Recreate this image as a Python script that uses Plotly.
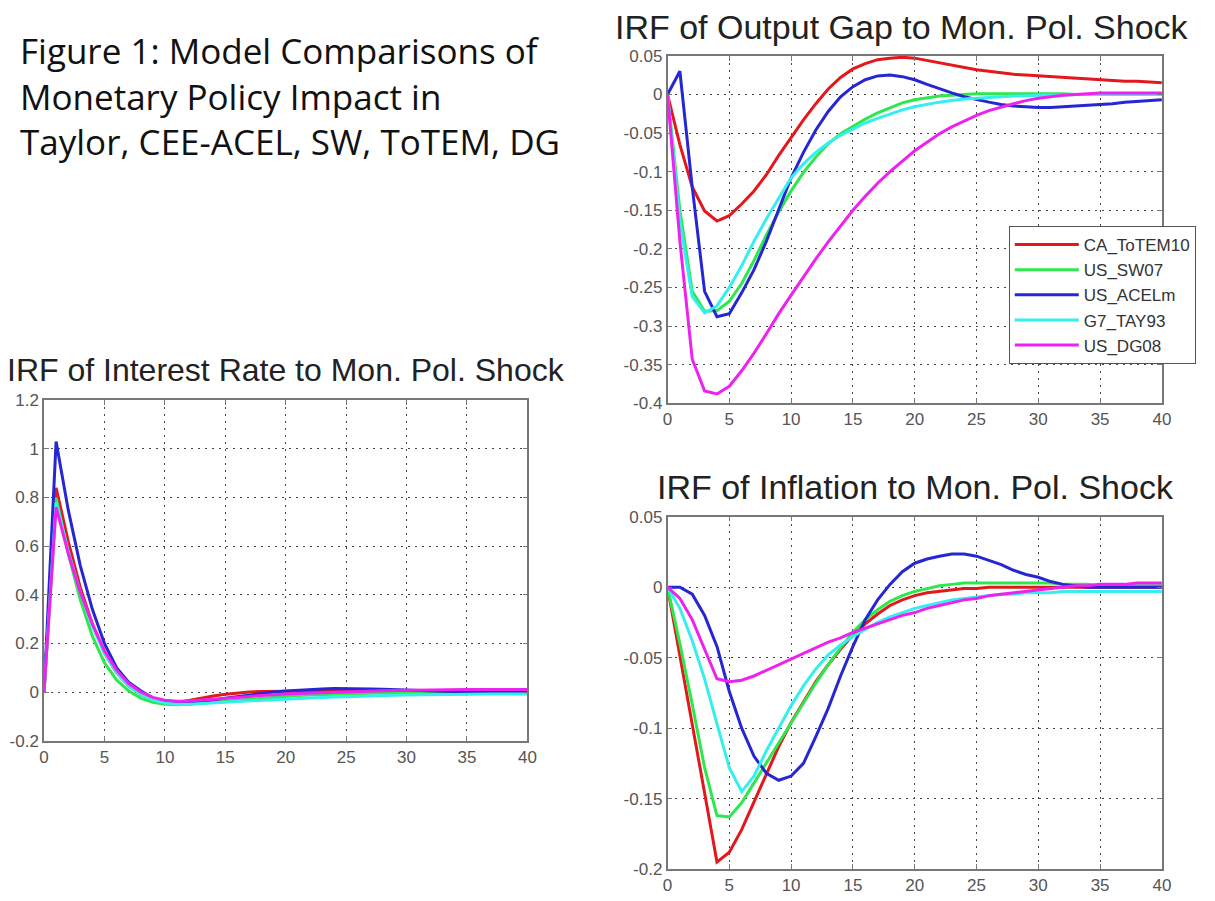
import plotly.graph_objects as go

# ---------------- data ----------------
periods = list(range(0, 41))
series_names = ["CA_ToTEM10", "US_SW07", "US_ACELm", "G7_TAY93", "US_DG08"]
series_colors = ["#e3171c", "#2de84c", "#2626d2", "#35eeee", "#ee22ee"]

# Output gap
og_CA_ToTEM10 = [0, -0.065, -0.12, -0.151, -0.164, -0.157, -0.142, -0.125, -0.104, -0.079,
                 -0.056, -0.033, -0.012, 0.007, 0.022, 0.033, 0.04, 0.045, 0.047, 0.048,
                 0.047, 0.044, 0.041, 0.038, 0.035, 0.032, 0.03, 0.028, 0.026, 0.025,
                 0.024, 0.023, 0.022, 0.021, 0.02, 0.019, 0.018, 0.017, 0.017, 0.016, 0.015]
og_US_SW07 = [0, -0.15, -0.255, -0.281, -0.28, -0.268, -0.245, -0.215, -0.182, -0.152,
              -0.125, -0.101, -0.081, -0.064, -0.051, -0.041, -0.032, -0.024, -0.017, -0.011,
              -0.007, -0.004, -0.002, -0.001, 0.0, 0.001, 0.001, 0.001, 0.001, 0.001,
              0.001, 0.001, 0.001, 0.0, 0.0, 0.0, 0.0, 0.0, 0.0, 0.0, 0.0]
og_US_ACELm = [0, 0.03, -0.12, -0.255, -0.288, -0.284, -0.257, -0.227, -0.19, -0.148,
               -0.108, -0.075, -0.046, -0.022, -0.003, 0.01, 0.019, 0.024, 0.025, 0.023,
               0.019, 0.013, 0.007, 0.002, -0.003, -0.007, -0.01, -0.013, -0.015, -0.016,
               -0.017, -0.017, -0.016, -0.015, -0.014, -0.013, -0.012, -0.01, -0.009, -0.008, -0.007]
og_G7_TAY93 = [0, -0.165, -0.262, -0.283, -0.274, -0.25, -0.222, -0.19, -0.161, -0.134,
               -0.108, -0.09, -0.075, -0.063, -0.053, -0.045, -0.037, -0.031, -0.025, -0.02,
               -0.016, -0.013, -0.01, -0.008, -0.006, -0.005, -0.004, -0.003, -0.002, -0.002,
               -0.001, -0.001, -0.001, 0.0, 0.0, 0.0, 0.0, 0.0, 0.0, 0.0, 0.0]
og_US_DG08 = [0, -0.19, -0.343, -0.384, -0.388, -0.378, -0.358, -0.335, -0.31, -0.284,
              -0.26, -0.236, -0.213, -0.191, -0.17, -0.15, -0.132, -0.115, -0.1, -0.086,
              -0.073, -0.062, -0.051, -0.042, -0.034, -0.027, -0.021, -0.016, -0.012, -0.008,
              -0.005, -0.003, -0.001, 0.0, 0.001, 0.002, 0.002, 0.002, 0.002, 0.002, 0.002]

# Interest rate
ir_CA_ToTEM10 = [0, 0.84, 0.62, 0.43, 0.28, 0.16, 0.08, 0.025, -0.01, -0.03,
                 -0.04, -0.042, -0.035, -0.025, -0.016, -0.009, -0.004, 0.0, 0.002, 0.003,
                 0.004, 0.004, 0.004, 0.004, 0.004, 0.004, 0.004, 0.004, 0.004, 0.004,
                 0.004, 0.004, 0.004, 0.004, 0.004, 0.004, 0.004, 0.004, 0.004, 0.004, 0.004]
ir_US_SW07 = [0, 0.8, 0.57, 0.38, 0.23, 0.12, 0.05, 0.005, -0.025, -0.042,
              -0.05, -0.052, -0.05, -0.046, -0.042, -0.037, -0.032, -0.028, -0.024, -0.02,
              -0.017, -0.014, -0.012, -0.01, -0.008, -0.007, -0.006, -0.005, -0.004, -0.003,
              -0.003, -0.002, -0.002, -0.002, -0.001, -0.001, -0.001, -0.001, 0.0, 0.0, 0.0]
ir_US_ACELm = [0, 1.03, 0.75, 0.52, 0.34, 0.2, 0.1, 0.04, 0.005, -0.025,
               -0.04, -0.045, -0.045, -0.04, -0.033, -0.025, -0.018, -0.011, -0.005, 0.0,
               0.004, 0.008, 0.011, 0.013, 0.015, 0.015, 0.014, 0.013, 0.011, 0.009,
               0.007, 0.005, 0.004, 0.003, 0.002, 0.001, 0.001, 0.0, 0.0, 0.0, 0.0]
ir_G7_TAY93 = [0, 0.78, 0.58, 0.41, 0.27, 0.16, 0.08, 0.025, -0.01, -0.032,
               -0.045, -0.05, -0.05, -0.048, -0.045, -0.042, -0.039, -0.036, -0.033, -0.03,
               -0.028, -0.026, -0.024, -0.022, -0.02, -0.018, -0.017, -0.015, -0.014, -0.013,
               -0.012, -0.011, -0.011, -0.01, -0.01, -0.009, -0.009, -0.008, -0.008, -0.008, -0.008]
ir_US_DG08 = [0, 0.76, 0.57, 0.41, 0.28, 0.17, 0.09, 0.035, 0.0, -0.022,
              -0.034, -0.038, -0.037, -0.034, -0.03, -0.026, -0.022, -0.018, -0.014, -0.011,
              -0.008, -0.006, -0.004, -0.002, -0.001, 0.0, 0.002, 0.004, 0.005, 0.006,
              0.007, 0.008, 0.009, 0.009, 0.01, 0.01, 0.01, 0.01, 0.01, 0.01, 0.01]

# Inflation
inf_CA_ToTEM10 = [0, -0.048, -0.097, -0.146, -0.195, -0.188, -0.172, -0.152, -0.132, -0.113,
                  -0.096, -0.081, -0.067, -0.055, -0.044, -0.034, -0.026, -0.019, -0.013, -0.009,
                  -0.006, -0.004, -0.003, -0.002, -0.001, -0.001, 0.0, 0.0, 0.0, 0.0,
                  0.0, 0.0, 0.0, 0.0, 0.0, 0.0, 0.0, 0.0, 0.0, 0.0, 0.0]
inf_US_SW07 = [0, -0.04, -0.083, -0.128, -0.162, -0.163, -0.153, -0.139, -0.124, -0.11,
               -0.096, -0.082, -0.068, -0.055, -0.043, -0.032, -0.023, -0.016, -0.01, -0.006,
               -0.003, -0.001, 0.001, 0.002, 0.003, 0.003, 0.003, 0.003, 0.003, 0.003,
               0.003, 0.003, 0.002, 0.002, 0.002, 0.001, 0.001, 0.001, 0.001, 0.001, 0.001]
inf_US_ACELm = [0, 0.0, -0.005, -0.02, -0.042, -0.074, -0.1, -0.12, -0.132, -0.137,
                -0.134, -0.125, -0.106, -0.086, -0.063, -0.042, -0.023, -0.009, 0.002, 0.011,
                0.017, 0.02, 0.022, 0.0235, 0.0235, 0.022, 0.019, 0.016, 0.012, 0.009,
                0.007, 0.004, 0.002, 0.001, 0.0, 0.0, 0.0, 0.0, 0.0, 0.0, 0.0]
inf_G7_TAY93 = [0, -0.015, -0.038, -0.065, -0.097, -0.128, -0.145, -0.134, -0.116, -0.1,
                -0.084, -0.07, -0.058, -0.048, -0.041, -0.035, -0.03, -0.025, -0.021, -0.018,
                -0.015, -0.013, -0.011, -0.009, -0.008, -0.007, -0.006, -0.005, -0.005, -0.004,
                -0.004, -0.004, -0.003, -0.003, -0.003, -0.003, -0.003, -0.003, -0.003, -0.003, -0.003]
inf_US_DG08 = [0, -0.008, -0.023, -0.044, -0.065, -0.067, -0.066, -0.063, -0.059, -0.055,
               -0.051, -0.047, -0.043, -0.039, -0.036, -0.032, -0.029, -0.026, -0.023, -0.02,
               -0.018, -0.015, -0.013, -0.011, -0.009, -0.008, -0.006, -0.005, -0.004, -0.003,
               -0.002, -0.001, 0.0, 0.001, 0.001, 0.002, 0.002, 0.002, 0.003, 0.003, 0.003]

x_ticks = [0, 5, 10, 15, 20, 25, 30, 35, 40]
og_ticks = [0.05, 0, -0.05, -0.1, -0.15, -0.2, -0.25, -0.3, -0.35, -0.4]
og_ticklabels = ["0.05", "0", "-0.05", "-0.1", "-0.15", "-0.2", "-0.25", "-0.3", "-0.35", "-0.4"]
ir_ticks = [1.2, 1, 0.8, 0.6, 0.4, 0.2, 0, -0.2]
ir_ticklabels = ["1.2", "1", "0.8", "0.6", "0.4", "0.2", "0", "-0.2"]
inf_ticks = [0.05, 0, -0.05, -0.1, -0.15, -0.2]
inf_ticklabels = ["0.05", "0", "-0.05", "-0.1", "-0.15", "-0.2"]

title_og = "IRF of Output Gap to Mon. Pol. Shock"
title_ir = "IRF of Interest Rate to Mon. Pol. Shock"
title_inf = "IRF of Inflation to Mon. Pol. Shock"
fig_text = ["Figure 1: Model Comparisons of", "Monetary Policy Impact in",
            "Taylor, CEE-ACEL, SW, ToTEM, DG"]

og_data = [og_CA_ToTEM10, og_US_SW07, og_US_ACELm, og_G7_TAY93, og_US_DG08]
ir_data = [ir_CA_ToTEM10, ir_US_SW07, ir_US_ACELm, ir_G7_TAY93, ir_US_DG08]
inf_data = [inf_CA_ToTEM10, inf_US_SW07, inf_US_ACELm, inf_G7_TAY93, inf_US_DG08]

# ---------------- figure ----------------
W, H = 1215, 901
FONT = "Liberation Sans, Arial, sans-serif"

# calibration of page placement (observed offset/scale of the rendered page)
OX, SX, OY, SY = 15.0, 0.9877, 15.0, 0.9834


def fx(px):
    return min(max(((px - OX) / SX) / W, 0.0), 1.0)


def fy(py):
    return min(max(1 - ((py - OY) / SY) / H, 0.0), 1.0)


def dom_x(a, b):
    return [fx(a), fx(b)]


def dom_y(top, bottom):
    return [fy(bottom), fy(top)]


fig = go.Figure()

for i, name in enumerate(series_names):
    fig.add_trace(go.Scatter(x=periods, y=og_data[i], name=name, mode="lines",
                             line=dict(color=series_colors[i], width=3),
                             xaxis="x", yaxis="y", showlegend=True))
for i, name in enumerate(series_names):
    fig.add_trace(go.Scatter(x=periods, y=ir_data[i], name=name, mode="lines",
                             line=dict(color=series_colors[i], width=3),
                             xaxis="x2", yaxis="y2", showlegend=False))
for i, name in enumerate(series_names):
    fig.add_trace(go.Scatter(x=periods, y=inf_data[i], name=name, mode="lines",
                             line=dict(color=series_colors[i], width=3),
                             xaxis="x3", yaxis="y3", showlegend=False))

axis_common = dict(showgrid=True, griddash="2px,5px", gridcolor="#444444", gridwidth=1.3,
                   showline=True, linecolor="#777777", linewidth=1.5, mirror="ticks",
                   ticks="inside", ticklen=5, tickcolor="#777777", zeroline=False,
                   tickfont=dict(family=FONT, size=17, color="#555555"))

fig.update_layout(
    width=W, height=H,
    margin=dict(l=0, r=0, t=0, b=0),
    paper_bgcolor="white", plot_bgcolor="white",
    xaxis=dict(domain=dom_x(669, 1163), range=[0, 40], tickvals=x_ticks, anchor="y", **axis_common),
    yaxis=dict(domain=dom_y(54, 403), range=[-0.4, 0.05], tickvals=og_ticks, ticktext=og_ticklabels,
               anchor="x", **axis_common),
    xaxis2=dict(domain=dom_x(46, 529), range=[0, 40], tickvals=x_ticks, anchor="y2", **axis_common),
    yaxis2=dict(domain=dom_y(400, 742), range=[-0.2, 1.2], tickvals=ir_ticks, ticktext=ir_ticklabels,
                anchor="x2", **axis_common),
    xaxis3=dict(domain=dom_x(669, 1163), range=[0, 40], tickvals=x_ticks, anchor="y3", **axis_common),
    yaxis3=dict(domain=dom_y(517, 871), range=[-0.2, 0.05], tickvals=inf_ticks, ticktext=inf_ticklabels,
                anchor="x3", **axis_common),
    legend=dict(x=fx(1010), y=fy(225), xanchor="left", yanchor="top",
                bgcolor="white", bordercolor="#555555", borderwidth=1,
                font=dict(family=FONT, size=17, color="#333333"),
                tracegroupgap=0, itemwidth=64),
    showlegend=True,
)

annotations = [
    dict(text=title_og, x=fx(903), y=fy(25), xref="paper", yref="paper",
         xanchor="center", yanchor="middle", showarrow=False,
         font=dict(family=FONT, size=34, color="#222222")),
    dict(text=title_ir, x=fx(288), y=fy(370), xref="paper", yref="paper",
         xanchor="center", yanchor="middle", showarrow=False,
         font=dict(family=FONT, size=32, color="#222222")),
    dict(text=title_inf, x=fx(917), y=fy(487), xref="paper", yref="paper",
         xanchor="center", yanchor="middle", showarrow=False,
         font=dict(family=FONT, size=34, color="#222222")),
    dict(text="<br>".join(fig_text), x=fx(20), y=fy(94), xref="paper", yref="paper",
         xanchor="left", yanchor="middle", align="left", showarrow=False,
         font=dict(family="Open Sans, Lato, sans-serif", size=35, color="#111111")),
]
fig.update_layout(annotations=annotations)

fig.write_html("out.html", config={"displayModeBar": False})
